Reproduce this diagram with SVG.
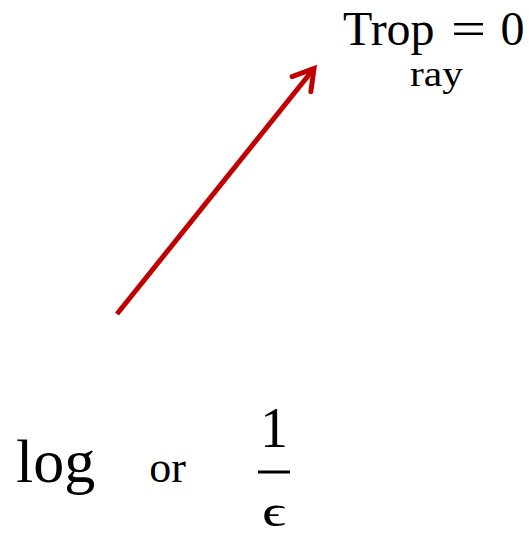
<svg xmlns="http://www.w3.org/2000/svg" width="529" height="536" viewBox="0 0 529 536">
<style>
.t{font-family:"Liberation Serif","DejaVu Serif",serif;fill:#000}
.c{stroke:#c00000;stroke-width:5;fill:none}
</style>
<defs>
<marker id="ah" markerUnits="userSpaceOnUse" orient="auto" refX="0" refY="0" markerWidth="40" markerHeight="40" viewBox="-25 -20 30 40" overflow="visible">
<path d="M-20,-12 L0,0 L-20,12" fill="none" stroke="#c00000" stroke-width="5" stroke-linecap="round" stroke-linejoin="miter"/>
</marker>
</defs>
<rect width="529" height="536" fill="#fff"/>
<g id="connectors">
<line class="c" x1="117" y1="314" x2="314" y2="68.5" marker-end="url(#ah)"/>
</g>
<g id="trop">
<text class="t" x="343" y="45" font-size="48">Trop</text>
<text class="t" x="451" y="45" font-size="48" textLength="35" lengthAdjust="spacingAndGlyphs">=</text>
<text class="t" x="512.5" y="45" font-size="48" text-anchor="middle">0</text>
<text class="t" x="436.5" y="86" font-size="36" text-anchor="middle" textLength="53" lengthAdjust="spacingAndGlyphs">ray</text>
</g>
<g id="scale">
<text class="t" x="16" y="482" font-size="62">log</text>
<text class="t" x="167.5" y="482" font-size="44" text-anchor="middle">or</text>
<text class="t" x="274" y="447" font-size="56" text-anchor="middle">1</text>
<line x1="258" y1="472" x2="290" y2="472" stroke="#000" stroke-width="3"/>
<text class="t" x="262" y="526" font-size="44" textLength="24" lengthAdjust="spacingAndGlyphs">ϵ</text>
</g>
</svg>
